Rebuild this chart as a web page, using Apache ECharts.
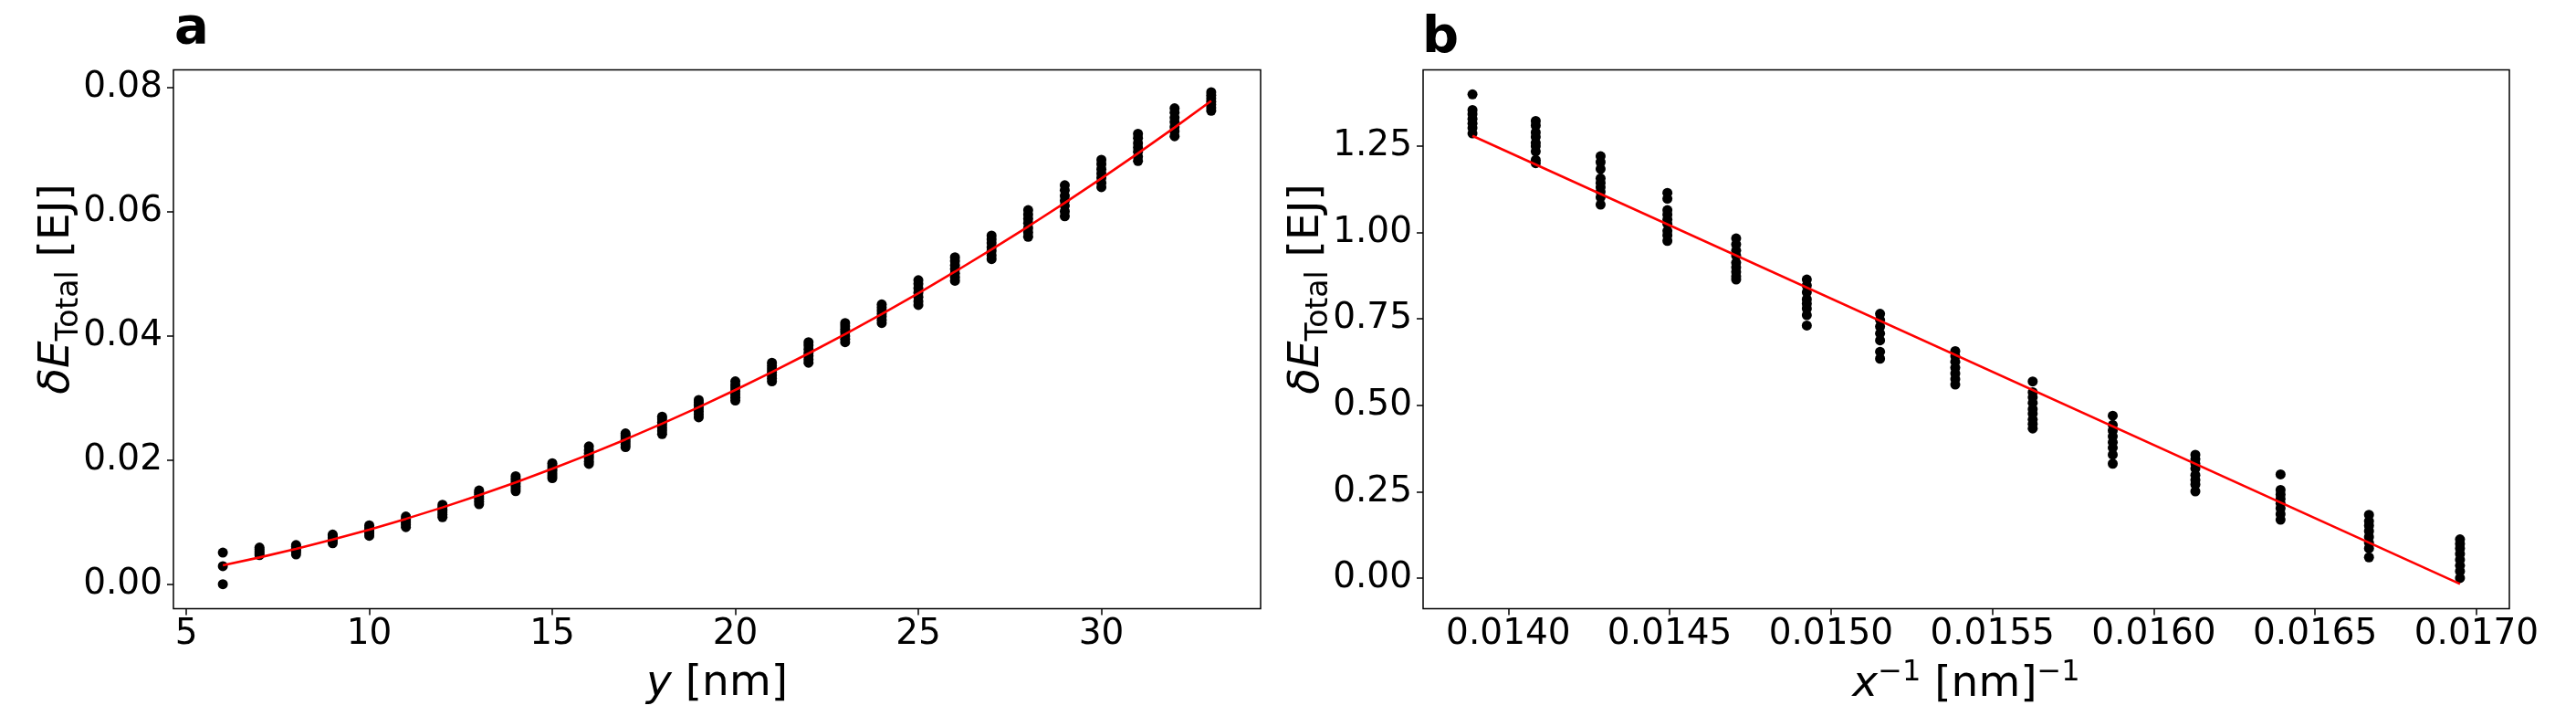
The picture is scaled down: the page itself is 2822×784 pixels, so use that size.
<!DOCTYPE html>
<html>
<head>
<meta charset="utf-8">
<script src="https://cdn.jsdelivr.net/npm/echarts@6/dist/echarts.min.js"></script>
<style>
  html, body { margin: 0; padding: 0; background: #fff; }
  #main { width: 2822px; height: 784px; }
</style>
</head>
<body>
<div id="main"></div>
<script>
// panel a : y [nm] vs dE
var aX = [6, 7, 8, 9, 10, 11, 12, 13, 14, 15, 16, 17, 18, 19, 20, 21, 22, 23, 24, 25, 26, 27, 28, 29, 30, 31, 32, 33];
var aPoints = [
    [0.0, 0.0029, 0.0051],
    [0.0047, 0.0050, 0.0053, 0.0056, 0.0059],
    [0.0048, 0.0052, 0.0055, 0.0058, 0.0061, 0.0063],
    [0.0066, 0.0069, 0.0072, 0.0075, 0.0078, 0.0080],
    [0.0078, 0.0082, 0.0085, 0.0088, 0.0091, 0.0095],
    [0.0092, 0.0096, 0.0099, 0.0102, 0.0105, 0.0109],
    [0.0108, 0.0112, 0.0116, 0.0120, 0.0124, 0.0128],
    [0.0129, 0.0133, 0.0137, 0.0141, 0.0145, 0.0148, 0.0151],
    [0.0150, 0.0154, 0.0158, 0.0162, 0.0166, 0.0170, 0.0174],
    [0.0171, 0.0175, 0.0179, 0.0183, 0.0187, 0.0191, 0.0195],
    [0.0194, 0.0198, 0.0203, 0.0207, 0.0211, 0.0216, 0.0222],
    [0.0221, 0.0225, 0.0229, 0.0233, 0.0237, 0.0240, 0.0243],
    [0.0242, 0.0247, 0.0252, 0.0257, 0.0261, 0.0266, 0.0270],
    [0.0269, 0.0274, 0.0279, 0.0284, 0.0289, 0.0293, 0.0297],
    [0.0296, 0.0301, 0.0306, 0.0311, 0.0316, 0.0321, 0.0327],
    [0.0327, 0.0332, 0.0337, 0.0342, 0.0347, 0.0352, 0.0357],
    [0.0357, 0.0362, 0.0368, 0.0373, 0.0379, 0.0385, 0.0390],
    [0.0390, 0.0395, 0.0400, 0.0406, 0.0411, 0.0416, 0.0421],
    [0.0421, 0.0426, 0.0431, 0.0436, 0.0441, 0.0446, 0.0451],
    [0.0450, 0.0456, 0.0463, 0.0470, 0.0477, 0.0484, 0.0490],
    [0.0489, 0.0495, 0.0501, 0.0508, 0.0514, 0.0521, 0.0527],
    [0.0524, 0.0530, 0.0537, 0.0543, 0.0550, 0.0556, 0.0562],
    [0.0560, 0.0567, 0.0574, 0.0582, 0.0589, 0.0596, 0.0603],
    [0.0593, 0.0601, 0.0610, 0.0618, 0.0626, 0.0635, 0.0643],
    [0.0640, 0.0647, 0.0655, 0.0662, 0.0669, 0.0677, 0.0684],
    [0.0682, 0.0689, 0.0697, 0.0704, 0.0711, 0.0719, 0.0726],
    [0.0722, 0.0730, 0.0737, 0.0745, 0.0752, 0.0760, 0.0767],
    [0.0763, 0.0768, 0.0773, 0.0778, 0.0783, 0.0788, 0.0793]
];
// red fit curve, read at each y
var aFit = [0.00305, 0.00431, 0.00569, 0.00719, 0.0088, 0.01053, 0.01237, 0.01433, 0.01641, 0.0186,
    0.02091, 0.02333, 0.02587, 0.02853, 0.0313, 0.03419, 0.03719, 0.04031, 0.04355, 0.0469,
    0.05037, 0.05395, 0.05765, 0.06147, 0.0654, 0.06945, 0.07361, 0.07789];
var aXTicks = [5, 10, 15, 20, 25, 30];
var aYTicks = [0, 0.02, 0.04, 0.06, 0.08];

// panel b : x^-1 vs dE
var bX = [0.013889, 0.014085, 0.014286, 0.014493, 0.014706, 0.014925, 0.015152,
    0.015385, 0.015625, 0.015873, 0.016129, 0.016393, 0.016667, 0.016949];
var bPoints = [
    [1.400, 1.355, 1.343, 1.329, 1.316, 1.303, 1.287],
    [1.323, 1.310, 1.290, 1.277, 1.260, 1.250, 1.235, 1.210, 1.201],
    [1.221, 1.204, 1.184, 1.157, 1.144, 1.131, 1.118, 1.102, 1.081],
    [1.115, 1.098, 1.065, 1.052, 1.038, 1.025, 1.005, 0.992, 0.976],
    [0.983, 0.966, 0.948, 0.933, 0.913, 0.899, 0.886, 0.873, 0.864],
    [0.864, 0.847, 0.827, 0.807, 0.794, 0.780, 0.761, 0.731],
    [0.765, 0.747, 0.728, 0.708, 0.688, 0.655, 0.635],
    [0.657, 0.642, 0.626, 0.609, 0.592, 0.576, 0.560],
    [0.569, 0.538, 0.523, 0.507, 0.489, 0.476, 0.459, 0.446, 0.433],
    [0.470, 0.443, 0.427, 0.410, 0.393, 0.377, 0.357, 0.331],
    [0.357, 0.344, 0.331, 0.317, 0.298, 0.284, 0.271, 0.251],
    [0.300, 0.255, 0.242, 0.229, 0.216, 0.202, 0.185, 0.169],
    [0.183, 0.165, 0.152, 0.136, 0.119, 0.102, 0.086, 0.060],
    [0.112, 0.099, 0.086, 0.070, 0.053, 0.036, 0.020, 0.000]
];
var bFitX = [0.013889, 0.016949];
var bFitY = [1.280, -0.017];
var bXTicks = [0.0140, 0.0145, 0.0150, 0.0155, 0.0160, 0.0165, 0.0170];
var bYTicks = [0, 0.25, 0.5, 0.75, 1.0, 1.25];

var FONT = 'DejaVu Sans';

function scatterData(xs, pts) {
    var out = [];
    for (var i = 0; i < xs.length; i++) {
        for (var j = 0; j < pts[i].length; j++) {
            out.push([xs[i], pts[i][j]]);
        }
    }
    return out;
}
function zip(xs, ys) {
    var out = [];
    for (var i = 0; i < xs.length; i++) out.push([xs[i], ys[i]]);
    return out;
}

var nameRich = {
    it: { fontFamily: FONT, fontStyle: 'italic', fontSize: 47, color: '#000', lineHeight: 56 },
    rm: { fontFamily: FONT, fontSize: 47, color: '#000', lineHeight: 56 },
    sub: { fontFamily: FONT, fontSize: 33, color: '#000', lineHeight: 36, padding: [26, 0, 0, 0] },
    sup: { fontFamily: FONT, fontSize: 32, color: '#000', lineHeight: 36, padding: [0, 0, 26, 0] }
};

function xAxisOf(idx, min, max, ticks, fmt, name, gap) {
    return {
        type: 'value', gridIndex: idx, min: min, max: max,
        splitLine: { show: false },
        axisLine: { show: false, onZero: false },
        axisTick: { show: true, length: 7, customValues: ticks, lineStyle: { color: '#000', width: 1.5 } },
        axisLabel: { customValues: ticks, formatter: fmt, fontFamily: FONT, fontSize: 39, color: '#000', margin: 9 },
        name: name, nameLocation: 'middle', nameGap: gap, nameMoveOverlap: false,
        nameTextStyle: { rich: nameRich }
    };
}
function yAxisOf(idx, min, max, ticks, fmt) {
    return {
        type: 'value', gridIndex: idx, min: min, max: max,
        splitLine: { show: false },
        axisLine: { show: false, onZero: false },
        axisTick: { show: true, length: 7, customValues: ticks, lineStyle: { color: '#000', width: 1.5 } },
        axisLabel: { customValues: ticks, formatter: fmt, fontFamily: FONT, fontSize: 39, color: '#000', margin: 12 },
        name: '{it|δE}{sub|Total}{rm| [EJ]}', nameLocation: 'middle', nameGap: 99, nameMoveOverlap: false,
        nameTextStyle: { rich: nameRich, padding: [0, 0, 0, 110] }
    };
}

var myChart = echarts.init(document.getElementById('main'), null, { renderer: 'canvas' });
var option = {
    backgroundColor: '#fff',
    animation: false,
    grid: [
        { left: 190, right: 1441, top: 76.5, bottom: 117.5, outerBoundsMode: 'none', show: true, borderColor: '#000', borderWidth: 1.5, backgroundColor: 'transparent' },
        { left: 1559, right: 73, top: 76.5, bottom: 117.5, outerBoundsMode: 'none', show: true, borderColor: '#000', borderWidth: 1.5, backgroundColor: 'transparent' }
    ],
    xAxis: [
        xAxisOf(0, 4.65, 34.35, aXTicks, function (v) { return String(Math.round(v)); }, '{it|y}{rm| [nm]}', 54),
        xAxisOf(1, 0.013736, 0.017102, bXTicks, function (v) { return v.toFixed(4); }, '{it|x}{sup|−1}{rm| [nm]}{sup|−1}', 55)
    ],
    yAxis: [
        yAxisOf(0, -0.00395, 0.0829, aYTicks, function (v) { return v.toFixed(2); }),
        yAxisOf(1, -0.0887, 1.471, bYTicks, function (v) { return v.toFixed(2); })
    ],
    graphic: [
        { type: 'text', left: 191, top: 4, style: { text: 'a', fontFamily: FONT, fontWeight: 'bold', fontSize: 56, fill: '#000' } },
        { type: 'text', left: 1558, top: 14, style: { text: 'b', fontFamily: FONT, fontWeight: 'bold', fontSize: 56, fill: '#000' } }
    ],
    series: [
        {
            type: 'scatter', xAxisIndex: 0, yAxisIndex: 0, symbol: 'circle', symbolSize: 11,
            itemStyle: { color: '#000', opacity: 1 }, data: scatterData(aX, aPoints), z: 2
        },
        {
            type: 'line', xAxisIndex: 0, yAxisIndex: 0, showSymbol: false, smooth: false,
            lineStyle: { color: '#ff0000', width: 2.6 }, data: zip(aX, aFit), z: 3
        },
        {
            type: 'scatter', xAxisIndex: 1, yAxisIndex: 1, symbol: 'circle', symbolSize: 11,
            itemStyle: { color: '#000', opacity: 1 }, data: scatterData(bX, bPoints), z: 2
        },
        {
            type: 'line', xAxisIndex: 1, yAxisIndex: 1, showSymbol: false,
            lineStyle: { color: '#ff0000', width: 2.6 }, data: zip(bFitX, bFitY), z: 3
        }
    ]
};
myChart.setOption(option);
</script>
</body>
</html>
